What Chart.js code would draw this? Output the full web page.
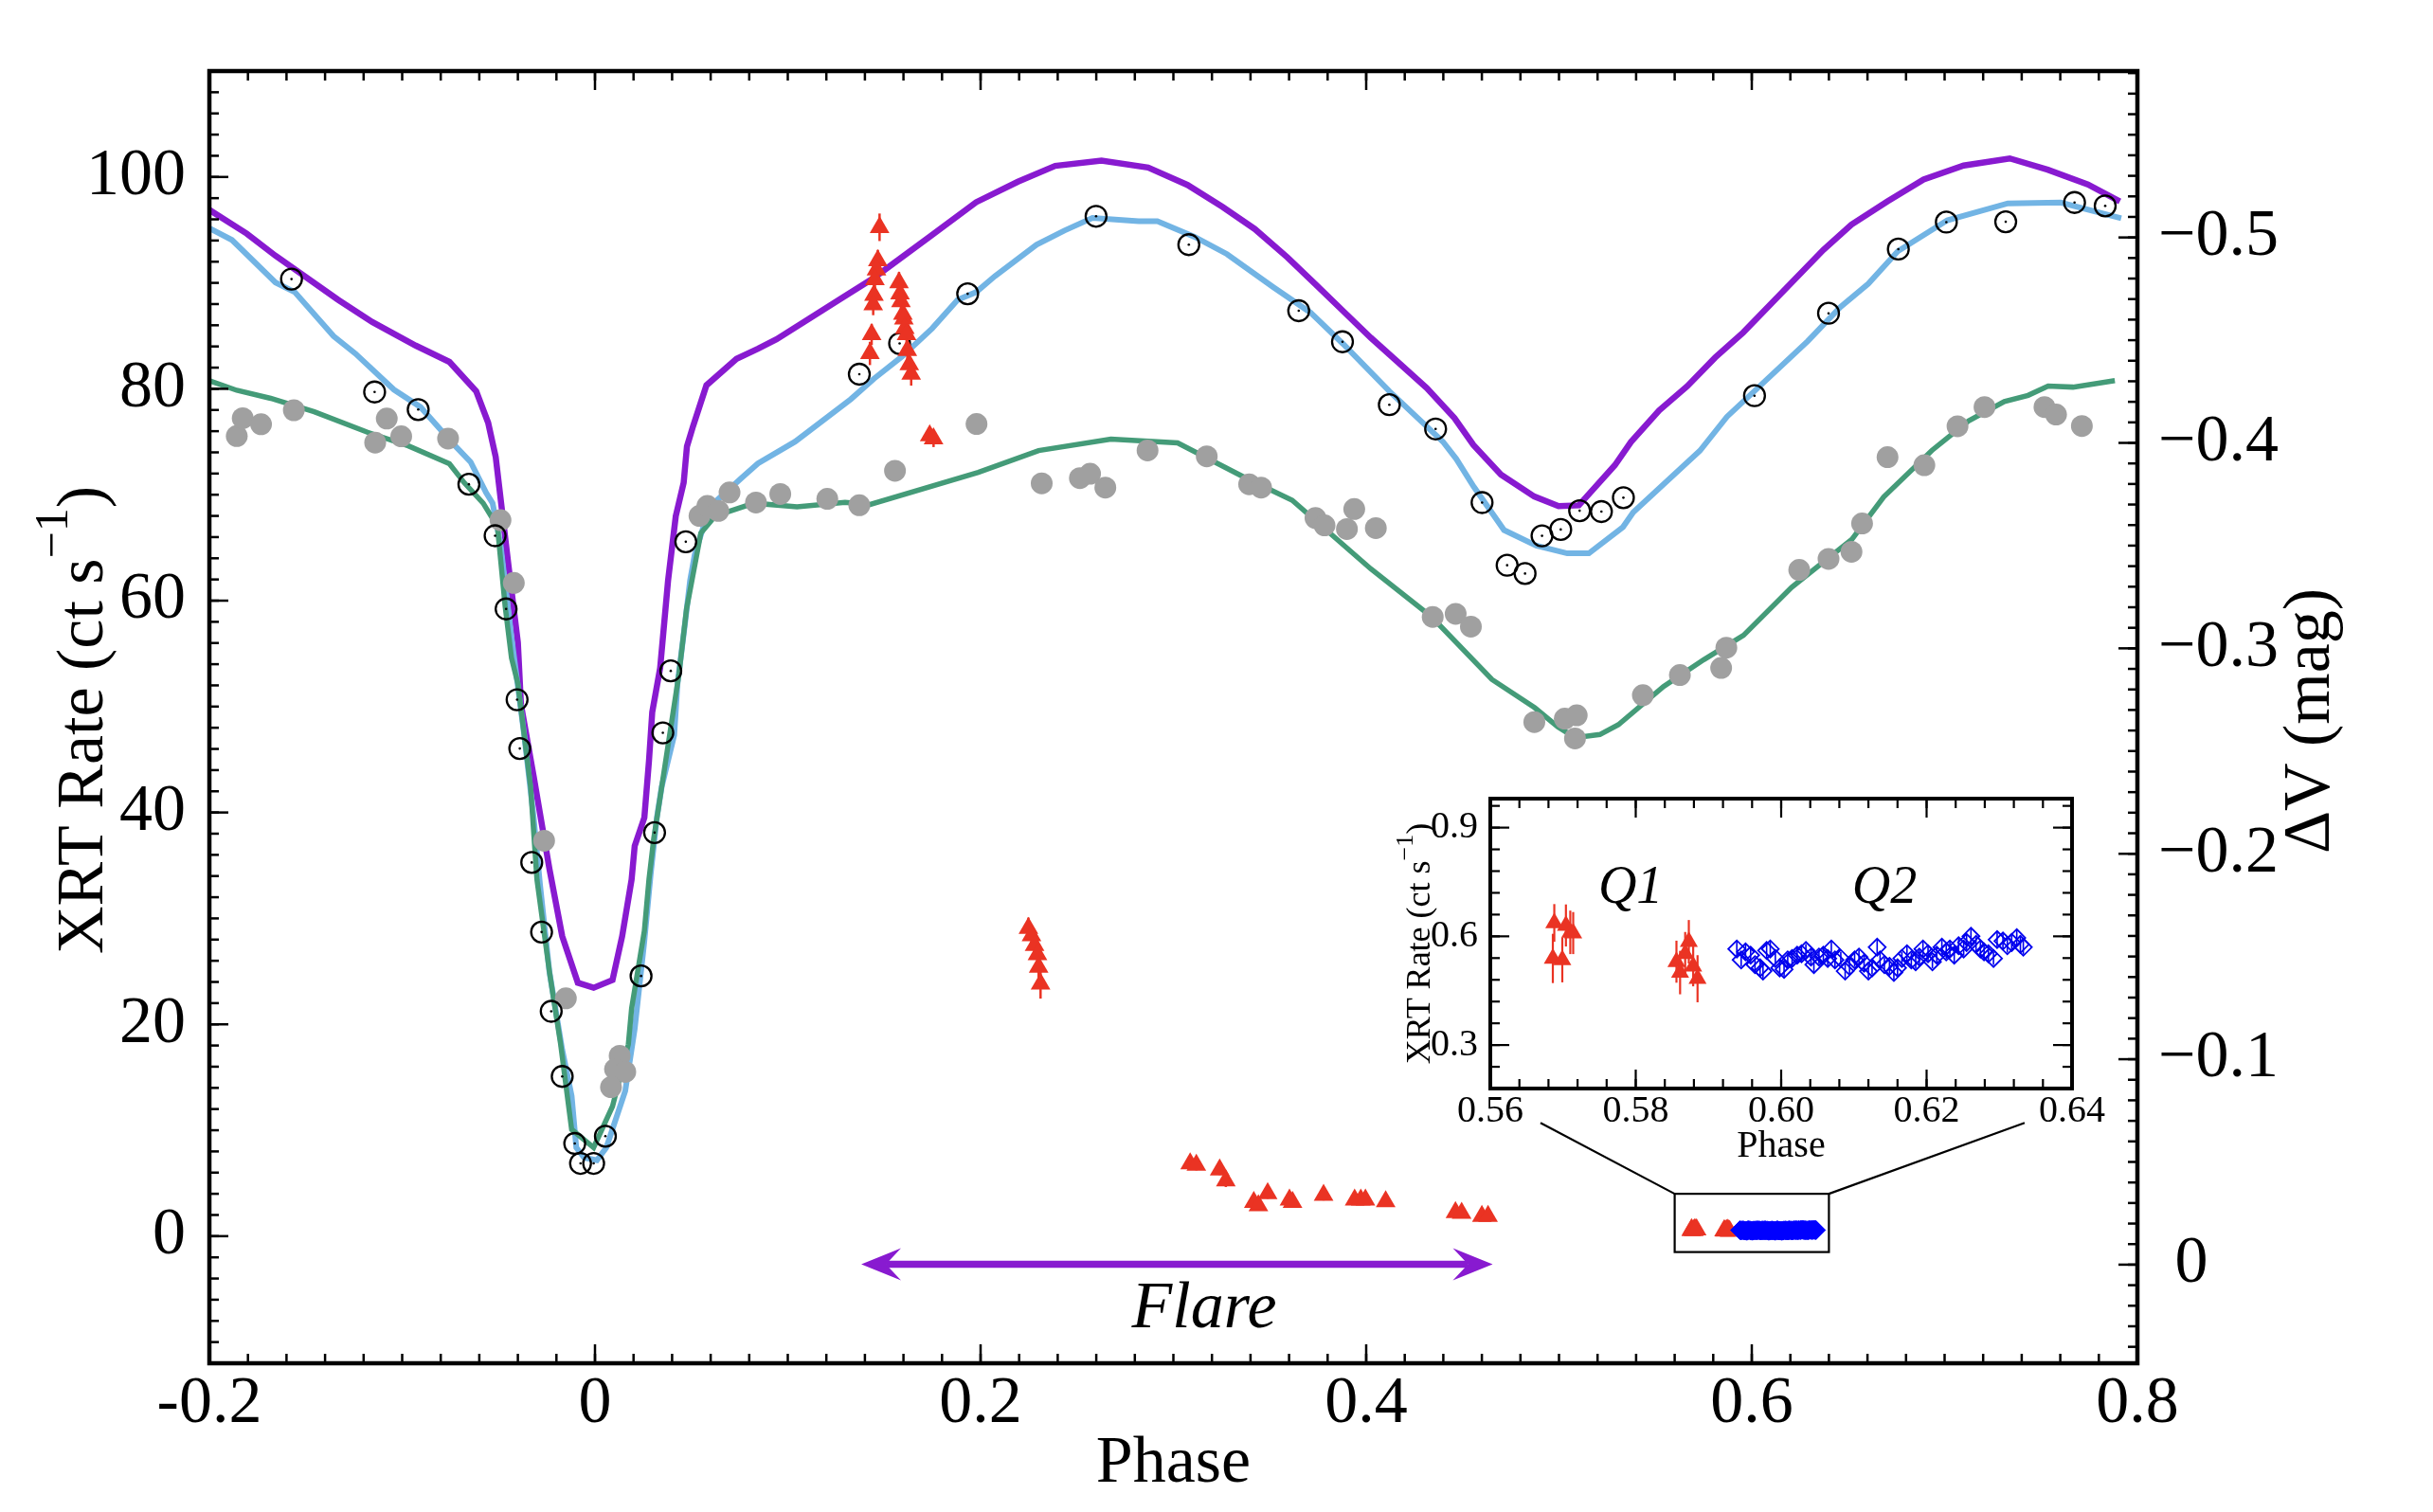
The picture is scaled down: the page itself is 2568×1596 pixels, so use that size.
<!DOCTYPE html>
<html><head><meta charset="utf-8">
<script src="https://cdn.jsdelivr.net/npm/chart.js@4.4.1/dist/chart.umd.min.js"></script>
<style>
html,body{margin:0;padding:0;background:#fff;overflow:hidden}
#wrap{position:relative;width:2568px;height:1596px;background:#fff}
#main{position:absolute;left:0;top:0}
#inset{position:absolute;left:1440px;top:825px}
</style></head><body>
<div id="wrap"><canvas id="main" width="2568" height="1596"></canvas><canvas id="inset" width="790" height="415"></canvas></div>
<script>
const FONT = "'Liberation Serif','Times New Roman',serif";
const C_PURPLE='#881ad0', C_BLUE='#72b4e4', C_GREEN='#449b78', C_GRAY='#a0a0a0', C_RED='#ea3323', C_QBLUE='#0000ee';

// ---- tick labels ----
const xTickValues=[-0.2,0,0.2,0.4,0.6,0.8];
const xTickLabels=['-0.2','0','0.2','0.4','0.6','0.8'];
const yTickValues=[0,20,40,60,80,100];
const yTickLabels=['0','20','40','60','80','100'];
const dvTickValues=[0,-0.1,-0.2,-0.3,-0.4,-0.5];
const dvTickLabels=[' 0','\u22120.1','\u22120.2','\u22120.3','\u22120.4','\u22120.5'];
const insetXTickValues=[0.56,0.58,0.60,0.62,0.64];
const insetXTickLabels=['0.56','0.58','0.60','0.62','0.64'];
const insetYTickValues=[0.3,0.6,0.9];
const insetYTickLabels=['0.3','0.6','0.9'];

// ---- model curves ----
const purplePhase=[-0.2000,-0.1806,-0.1657,-0.1332,-0.1155,-0.0930,-0.0755,-0.0616,-0.0554,-0.0515,-0.0449,-0.0400,-0.0384,-0.0318,-0.0236,-0.0170,-0.0089,-0.0007,0.0091,0.0141,0.0190,0.0206,0.0256,0.0280,0.0297,0.0338,0.0379,0.0419,0.0460,0.0477,0.0509,0.0578,0.0734,0.0845,0.0941,0.1110,0.1279,0.1447,0.1736,0.1977,0.2194,0.2387,0.2627,0.2869,0.3073,0.3254,0.3422,0.3591,0.3736,0.3880,0.4024,0.4169,0.4314,0.4458,0.4556,0.4699,0.4872,0.4998,0.5103,0.5290,0.5373,0.5519,0.5665,0.5810,0.5956,0.6122,0.6371,0.6517,0.6704,0.6891,0.7099,0.7338,0.7535,0.7743,0.7909];
const purpleRate=[96.89,94.65,92.56,88.40,86.31,84.08,82.54,79.76,76.79,73.58,63.37,56.04,50.21,43.41,34.64,28.32,23.93,23.45,24.19,28.32,33.67,36.84,39.52,44.87,49.48,53.64,61.89,67.98,71.13,74.56,76.49,80.33,82.83,83.78,84.67,86.60,88.55,90.48,94.36,97.62,99.56,101.05,101.55,100.89,99.25,97.18,95.09,92.41,89.88,87.35,84.82,82.45,80.07,77.23,74.70,71.89,69.83,68.93,69.00,72.79,74.98,77.96,80.24,82.95,85.33,88.45,93.11,95.51,97.70,99.77,101.08,101.75,100.69,99.30,97.70];

const bluePhase=[-0.2000,-0.1883,-0.1657,-0.1557,-0.1356,-0.1243,-0.1043,-0.0905,-0.0730,-0.0645,-0.0564,-0.0531,-0.0490,-0.0433,-0.0367,-0.0318,-0.0285,-0.0236,-0.0170,-0.0121,-0.0097,-0.0056,0.0010,0.0059,0.0157,0.0206,0.0256,0.0289,0.0321,0.0346,0.0411,0.0428,0.0468,0.0493,0.0517,0.0567,0.0616,0.0763,0.0845,0.1038,0.1327,0.1447,0.1592,0.1749,0.1881,0.1977,0.2074,0.2290,0.2435,0.2580,0.2820,0.2917,0.3109,0.3278,0.3519,0.3711,0.3880,0.4121,0.4242,0.4398,0.4467,0.4558,0.4715,0.4882,0.5043,0.5155,0.5332,0.5385,0.5731,0.5871,0.6016,0.6290,0.6459,0.6604,0.6757,0.7014,0.7328,0.7602,0.7916];
const blueRate=[95.17,94.05,90.04,89.13,84.97,83.33,79.92,78.28,74.70,73.09,70.17,69.20,65.30,56.54,47.30,39.52,33.19,24.92,17.61,13.23,8.37,7.41,7.16,8.37,13.72,19.57,27.83,34.17,39.52,42.43,47.30,52.15,58.00,61.89,64.32,67.24,69.20,71.63,72.95,75.01,79.02,80.96,83.04,85.71,88.39,89.13,90.63,93.61,94.94,96.14,95.83,95.83,94.36,92.72,89.59,87.20,84.24,79.76,77.68,75.01,73.39,70.75,66.66,65.20,64.47,64.47,66.95,68.34,74.15,77.36,79.82,84.50,87.72,89.91,92.98,95.91,97.51,97.59,96.11];

const greenPhase=[-0.2000,-0.1858,-0.1682,-0.1456,-0.1180,-0.0968,-0.0755,-0.0678,-0.0580,-0.0506,-0.0466,-0.0433,-0.0400,-0.0334,-0.0301,-0.0236,-0.0178,-0.0121,-0.0007,0.0091,0.0173,0.0190,0.0256,0.0280,0.0305,0.0338,0.0436,0.0475,0.0549,0.0624,0.0825,0.1048,0.1297,0.1424,0.1988,0.2301,0.2676,0.3022,0.3365,0.3616,0.4024,0.4339,0.4652,0.4874,0.4994,0.5083,0.5212,0.5308,0.5542,0.5751,0.5957,0.6206,0.6520,0.6684,0.6934,0.7124,0.7310,0.7433,0.7537,0.7666,0.7883];
const greenRate=[80.76,79.86,79.10,77.83,75.90,74.61,72.92,71.13,69.20,67.00,59.46,54.59,52.17,42.43,33.67,24.92,18.11,10.07,8.37,12.26,18.11,21.52,28.81,33.67,37.56,41.45,53.13,59.23,66.38,68.00,69.20,68.85,69.29,69.07,72.11,74.17,75.24,74.89,71.67,69.48,63.00,58.47,52.56,49.89,48.09,47.06,47.36,48.28,51.89,54.43,56.72,61.25,65.81,69.79,74.18,76.97,78.80,79.38,80.26,80.16,80.77];

// ---- observed points ----
const grayPhase=[-0.1858,-0.1827,-0.1732,-0.1562,-0.1140,-0.1080,-0.1005,-0.0762,-0.0490,-0.0421,-0.0264,-0.0151,0.0128,0.0104,0.0157,0.0083,0.0542,0.0583,0.0640,0.0698,0.0835,0.0961,0.1205,0.1371,0.1556,0.1979,0.2317,0.2515,0.2568,0.2647,0.2866,0.3173,0.3393,0.3455,0.3737,0.3784,0.3900,0.3938,0.4050,0.4345,0.4464,0.4543,0.4872,0.5030,0.5092,0.5083,0.5435,0.5627,0.5841,0.5868,0.6246,0.6398,0.6517,0.6572,0.6704,0.6895,0.7067,0.7207,0.7518,0.7578,0.7712];
const grayRate=[75.54,77.23,76.65,77.98,74.92,77.19,75.51,75.30,67.60,61.67,37.33,22.45,17.03,15.77,15.51,14.07,68.00,68.94,68.47,70.21,69.26,70.07,69.61,69.01,72.26,76.68,71.08,71.57,71.98,70.67,74.18,73.63,70.99,70.67,67.80,67.11,66.76,68.65,66.85,58.46,58.76,57.55,48.54,48.86,49.17,46.99,51.07,52.97,53.64,55.56,62.90,63.94,64.61,67.29,73.55,72.79,76.46,78.28,78.28,77.57,76.49];

const circPhase=[-0.1574,-0.1143,-0.0917,-0.0654,-0.0518,-0.0461,-0.0404,-0.0390,-0.0328,-0.0277,-0.0227,-0.0170,-0.0105,-0.0075,-0.0007,0.0054,0.0239,0.0309,0.0352,0.0393,0.0471,0.1371,0.1580,0.1933,0.2599,0.3080,0.3650,0.3877,0.4120,0.4360,0.4601,0.4731,0.4824,0.4912,0.5009,0.5107,0.5220,0.5334,0.6014,0.6398,0.6760,0.7009,0.7317,0.7674,0.7833];
const circRate=[90.36,79.70,78.04,70.99,66.13,59.22,50.65,46.04,35.28,28.71,21.23,15.08,8.75,6.87,6.87,9.44,24.57,38.10,47.52,53.37,65.56,81.38,84.28,88.97,96.29,93.61,87.37,84.44,78.50,76.21,69.26,63.34,62.56,66.12,66.72,68.49,68.41,69.72,79.35,87.13,93.19,95.74,95.77,97.59,97.27];

const flarePhase=[0.1476,0.1467,0.1460,0.1452,0.1447,0.1443,0.1435,0.1426,0.1577,0.1582,0.1587,0.1597,0.1602,0.1607,0.1616,0.1620,0.1630,0.1640,0.1736,0.1756,0.2248,0.2264,0.2280,0.2295,0.2301,0.2311,0.3087,0.3119,0.3240,0.3272,0.3417,0.3441,0.3489,0.3602,0.3618,0.3779,0.3940,0.3972,0.3996,0.4101,0.4463,0.4495,0.4600,0.4632];
const flareRate=[95.25,92.12,91.23,90.33,88.84,87.95,85.13,83.34,90.03,88.99,88.24,87.06,86.60,85.71,85.13,83.64,82.29,81.40,75.59,75.30,29.08,28.39,27.47,26.59,25.42,23.83,6.85,6.71,6.27,5.24,3.20,2.90,4.03,3.43,3.20,3.87,3.43,3.43,3.43,3.28,2.24,2.17,1.88,1.88];
const flareErr=[1.3,1.0,1.0,1.0,1.0,1.0,1.0,1.1,1.0,1.0,1.0,1.0,1.0,1.0,1.0,1.0,1.0,1.1,0.8,0.8,1.0,1.0,1.0,1.0,1.1,1.4,0.5,0.5,0.5,0.6,0.5,0.5,0.5,0.5,0.5,0.5,0.5,0.5,0.5,0.5,0.4,0.4,0.4,0.4];

const q1Phase=[0.5686,0.5688,0.5699,0.5704,0.5710,0.5714,0.5856,0.5861,0.5868,0.5873,0.5879,0.5885];
const q1Rate=[0.539,0.637,0.535,0.630,0.611,0.609,0.530,0.500,0.552,0.585,0.517,0.483];
const q1Err=[0.068,0.052,0.062,0.058,0.060,0.058,0.058,0.060,0.060,0.060,0.055,0.065];

const q2Phase=[0.5939,0.5945,0.5951,0.5958,0.5964,0.5971,0.5975,0.5980,0.5985,0.5992,0.5998,0.6004,0.6009,0.6015,0.6022,0.6028,0.6034,0.6041,0.6045,0.6052,0.6058,0.6064,0.6069,0.6074,0.6082,0.6088,0.6094,0.6101,0.6107,0.6114,0.6120,0.6125,0.6132,0.6136,0.6142,0.6149,0.6155,0.6160,0.6166,0.6173,0.6179,0.6185,0.6190,0.6195,0.6202,0.6208,0.6214,0.6221,0.6227,0.6232,0.6238,0.6244,0.6251,0.6255,0.6261,0.6268,0.6274,0.6279,0.6285,0.6292,0.6297,0.6305,0.6311,0.6317,0.6324,0.6329,0.6333];
const q2Rate=[0.565,0.535,0.557,0.548,0.522,0.513,0.504,0.561,0.565,0.539,0.513,0.509,0.535,0.539,0.548,0.552,0.561,0.543,0.522,0.543,0.548,0.539,0.565,0.535,0.539,0.504,0.517,0.535,0.543,0.526,0.504,0.513,0.570,0.535,0.522,0.517,0.500,0.513,0.539,0.552,0.535,0.530,0.543,0.565,0.552,0.530,0.548,0.570,0.557,0.565,0.548,0.574,0.565,0.583,0.600,0.578,0.565,0.557,0.552,0.539,0.591,0.587,0.574,0.583,0.596,0.578,0.570];
const q2Err=[0.020,0.018,0.022,0.020,0.019,0.021,0.020,0.022,0.020,0.018,0.021,0.020,0.019,0.020,0.022,0.020,0.018,0.021,0.020,0.019,0.020,0.022,0.021,0.020,0.018,0.020,0.021,0.019,0.020,0.022,0.020,0.018,0.021,0.020,0.019,0.020,0.022,0.020,0.018,0.021,0.020,0.019,0.020,0.022,0.020,0.018,0.021,0.020,0.019,0.020,0.022,0.020,0.018,0.021,0.020,0.019,0.020,0.022,0.020,0.018,0.021,0.020,0.019,0.020,0.022,0.025,0.020];

// ---- annotations (data units) ----
const flareArrowPhase=[0.1381,0.4656];
const flareArrowRate=-2.65;
const flareLabelPos=[0.316,-8.6];
const zoomBoxPhase=[0.56,0.64];
const zoomBoxRate=[-1.5,4.0];
const connectorEnds=[[0.4904,10.7],[0.7415,10.7]];
const q1LabelPos=[0.5793,0.692];
const q2LabelPos=[0.6142,0.692];

const pts=(xs,ys)=>xs.map((x,i)=>({x:x,y:ys[i]}));
function range(a,b,step){const out=[];const n=Math.round((b-a)/step);for(let i=0;i<=n;i++)out.push(+(a+i*step).toFixed(6));return out;}

function drawErr(chart,meta,ds){
  if(!ds.errorBars) return;
  const ctx=chart.ctx, xs=meta.xScale, ys=meta.yScale;
  ctx.save(); ctx.strokeStyle=ds.errorColor; ctx.lineWidth=ds.errorWidth||2.5;
  ds.data.forEach((p,i)=>{const e=ds.errorBars[i];const x=xs.getPixelForValue(p.x);
    ctx.beginPath();ctx.moveTo(x,ys.getPixelForValue(p.y-e));ctx.lineTo(x,ys.getPixelForValue(p.y+e));ctx.stroke();});
  ctx.restore();
}
function inwardTicks(ctx,area,scale,side,values,len){
  const lo=Math.min(scale.min,scale.max), hi=Math.max(scale.min,scale.max);
  values.forEach(v=>{
    if(v<lo-1e-9||v>hi+1e-9) return;
    const p=scale.getPixelForValue(v);
    ctx.beginPath();
    if(side==='bottom'){ctx.moveTo(p,area.bottom);ctx.lineTo(p,area.bottom-len);}
    else if(side==='top'){ctx.moveTo(p,area.top);ctx.lineTo(p,area.top+len);}
    else if(side==='left'){ctx.moveTo(area.left,p);ctx.lineTo(area.left+len,p);}
    else {ctx.moveTo(area.right,p);ctx.lineTo(area.right-len,p);}
    ctx.stroke();
  });
}
function rotTitle(ctx,parts,baseX,cy){
  ctx.save();
  let total=0;
  parts.forEach(p=>{ctx.font=(p.style||'')+' '+p.size+'px '+FONT;p.w=ctx.measureText(p.text).width;total+=p.w;});
  ctx.translate(baseX,cy);ctx.rotate(-Math.PI/2);
  ctx.fillStyle='#000';ctx.textBaseline='alphabetic';ctx.textAlign='left';
  let x=-total/2;
  parts.forEach(p=>{ctx.font=(p.style||'')+' '+p.size+'px '+FONT;ctx.fillText(p.text,x,-(p.rise||0));x+=p.w;});
  ctx.restore();
}
function arrowHead(ctx,tipX,y,dir,L,W){
  ctx.beginPath();ctx.moveTo(tipX,y);ctx.lineTo(tipX-dir*L,y-W);ctx.lineTo(tipX-dir*L*0.62,y);ctx.lineTo(tipX-dir*L,y+W);ctx.closePath();ctx.fill();
}

const mainDeco={
  id:'mainDeco',
  beforeDatasetDraw(chart,args){drawErr(chart,args.meta,chart.data.datasets[args.index]);},
  afterDraw(chart){
    const ctx=chart.ctx, a=chart.chartArea, sx=chart.scales.x, sy=chart.scales.y, sdv=chart.scales.dv;
    ctx.save();
    ctx.strokeStyle='#000';ctx.lineWidth=2.5;ctx.lineCap='butt';
    const xMinor=range(-0.2,0.8,0.02), yMinor=range(-12,110,2), dvMinor=range(-0.58,0.04,0.01);
    inwardTicks(ctx,a,sx,'bottom',xMinor,10);inwardTicks(ctx,a,sx,'top',xMinor,10);
    inwardTicks(ctx,a,sx,'bottom',xTickValues,20);inwardTicks(ctx,a,sx,'top',xTickValues,20);
    inwardTicks(ctx,a,sy,'left',yMinor,10);inwardTicks(ctx,a,sy,'left',yTickValues,20);
    inwardTicks(ctx,a,sdv,'right',dvMinor,10);inwardTicks(ctx,a,sdv,'right',dvTickValues,20);
    ctx.lineWidth=4.5;ctx.strokeRect(a.left,a.top,a.right-a.left,a.bottom-a.top);
    // zoom box and connectors
    ctx.lineWidth=2.2;
    const bx0=sx.getPixelForValue(zoomBoxPhase[0]), bx1=sx.getPixelForValue(zoomBoxPhase[1]);
    const by0=sy.getPixelForValue(zoomBoxRate[1]), by1=sy.getPixelForValue(zoomBoxRate[0]);
    ctx.strokeRect(bx0,by0,bx1-bx0,by1-by0);
    ctx.beginPath();ctx.moveTo(bx0,by0);ctx.lineTo(sx.getPixelForValue(connectorEnds[0][0]),sy.getPixelForValue(connectorEnds[0][1]));
    ctx.moveTo(bx1,by0);ctx.lineTo(sx.getPixelForValue(connectorEnds[1][0]),sy.getPixelForValue(connectorEnds[1][1]));ctx.stroke();
    // flare arrow
    const ax0=sx.getPixelForValue(flareArrowPhase[0]), ax1=sx.getPixelForValue(flareArrowPhase[1]), ay=sy.getPixelForValue(flareArrowRate);
    ctx.strokeStyle=C_PURPLE;ctx.fillStyle=C_PURPLE;ctx.lineWidth=7.5;
    ctx.beginPath();ctx.moveTo(ax0+26,ay);ctx.lineTo(ax1-26,ay);ctx.stroke();
    arrowHead(ctx,ax0,ay,-1,42,17);arrowHead(ctx,ax1,ay,1,42,17);
    // flare label
    ctx.fillStyle='#000';ctx.font='italic 70px '+FONT;ctx.textAlign='center';ctx.textBaseline='alphabetic';
    ctx.fillText('Flare',sx.getPixelForValue(flareLabelPos[0]),sy.getPixelForValue(flareLabelPos[1]));
    ctx.restore();
    rotTitle(ctx,[{text:'XRT Rate (ct s',size:70},{text:'\u22121',size:50,rise:37},{text:')',size:70}],108,(a.top+a.bottom)/2+3);
    rotTitle(ctx,[{text:'\u0394V (mag)',size:70},],2458,(a.top+a.bottom)/2+4);
  }
};

const fixedPad=s=>{s.paddingTop=0;s.paddingBottom=0;s.paddingLeft=0;s.paddingRight=0;};

new Chart(document.getElementById('main'),{
  type:'scatter',
  data:{datasets:[
    {label:'model 1',data:pts(purplePhase,purpleRate),showLine:true,borderColor:C_PURPLE,borderWidth:6.5,pointRadius:0,tension:0,fill:false,order:12},
    {label:'model 2',data:pts(bluePhase,blueRate),showLine:true,borderColor:C_BLUE,borderWidth:6,pointRadius:0,tension:0,fill:false,order:11},
    {label:'model 3',data:pts(greenPhase,greenRate),showLine:true,borderColor:C_GREEN,borderWidth:5.5,pointRadius:0,tension:0,fill:false,order:10},
    {label:'optical',data:pts(grayPhase,grayRate),pointStyle:'circle',pointRadius:11.5,backgroundColor:C_GRAY,borderWidth:0,order:6},
    {label:'optical 2',data:pts(circPhase,circRate),pointStyle:'circle',pointRadius:11,backgroundColor:'rgba(0,0,0,0)',borderColor:'#000',borderWidth:2.3,order:5},
    {label:'optical 2 centre',data:pts(circPhase,circRate),pointStyle:'circle',pointRadius:1.3,backgroundColor:'#000',borderWidth:0,order:4},
    {label:'XRT flare',data:pts(flarePhase,flareRate),errorBars:flareErr,errorColor:C_RED,errorWidth:2.5,pointStyle:'triangle',pointRadius:12,backgroundColor:C_RED,borderWidth:0,order:3},
    {label:'Q1',data:pts(q1Phase,q1Rate),pointStyle:'triangle',pointRadius:12,backgroundColor:C_RED,borderWidth:0,order:3},
    {label:'Q2',data:pts(q2Phase,q2Rate),pointStyle:'rectRot',pointRadius:10,backgroundColor:'#0000ff',borderColor:'#0000ff',borderWidth:1,order:2}
  ]},
  options:{
    responsive:false,animation:false,devicePixelRatio:1,
    layout:{padding:{top:75,left:0,right:0,bottom:0}},
    plugins:{legend:{display:false},tooltip:{enabled:false}},
    scales:{
      x:{type:'linear',position:'bottom',min:-0.2,max:0.8,
        afterBuildTicks:s=>{s.ticks=xTickValues.map(v=>({value:v}));},
        afterFit:s=>{s.height=157;fixedPad(s);},
        ticks:{callback:(v,i)=>xTickLabels[i],font:{family:FONT,size:70},color:'#000',padding:2,autoSkip:false,maxRotation:0},
        grid:{display:false,drawTicks:false},border:{display:false},
        title:{display:true,text:'Phase',font:{family:FONT,size:70},color:'#000',padding:{top:0,bottom:8}}},
      y:{type:'linear',position:'left',min:-12,max:110,
        afterBuildTicks:s=>{s.ticks=yTickValues.map(v=>({value:v}));},
        afterFit:s=>{s.width=221;fixedPad(s);},
        ticks:{callback:(v,i)=>yTickLabels[i],font:{family:FONT,size:70},color:'#000',padding:25,autoSkip:false},
        grid:{display:false,drawTicks:false},border:{display:false}},
      dv:{type:'linear',position:'right',reverse:true,min:-0.581,max:0.048,
        afterBuildTicks:s=>{s.ticks=dvTickValues.map(v=>({value:v}));},
        afterFit:s=>{s.width=312;fixedPad(s);},
        ticks:{callback:(v,i)=>dvTickLabels[i],font:{family:FONT,size:70},color:'#000',padding:22,autoSkip:false},
        grid:{display:false,drawTicks:false},border:{display:false}}
    }
  },
  plugins:[mainDeco]
});

const insetDeco={
  id:'insetDeco',
  beforeDatasetDraw(chart,args){drawErr(chart,args.meta,chart.data.datasets[args.index]);},
  afterDraw(chart){
    const ctx=chart.ctx,a=chart.chartArea,sx=chart.scales.x,sy=chart.scales.y;
    ctx.save();ctx.strokeStyle='#000';ctx.lineWidth=2.2;
    const xm=range(0.56,0.64,0.004), ym=range(0.18,0.96,0.06);
    ['bottom','top'].forEach(sd=>{inwardTicks(ctx,a,sx,sd,xm,10);inwardTicks(ctx,a,sx,sd,insetXTickValues,20);});
    ['left','right'].forEach(sd=>{inwardTicks(ctx,a,sy,sd,ym,10);inwardTicks(ctx,a,sy,sd,insetYTickValues,20);});
    ctx.lineWidth=4;ctx.strokeRect(a.left,a.top,a.right-a.left,a.bottom-a.top);
    ctx.fillStyle='#000';ctx.font='italic 56px '+FONT;ctx.textAlign='center';ctx.textBaseline='alphabetic';
    ctx.fillText('Q1',sx.getPixelForValue(q1LabelPos[0]),sy.getPixelForValue(q1LabelPos[1]));
    ctx.fillText('Q2',sx.getPixelForValue(q2LabelPos[0]),sy.getPixelForValue(q2LabelPos[1]));
    ctx.restore();
    rotTitle(ctx,[{text:'XRT Rate (ct s',size:36},{text:'\u22121',size:26,rise:18},{text:')',size:36}],69,(a.top+a.bottom)/2);
  }
};

new Chart(document.getElementById('inset'),{
  type:'scatter',
  data:{datasets:[
    {label:'Q1',data:pts(q1Phase,q1Rate),errorBars:q1Err,errorColor:C_RED,errorWidth:2.2,pointStyle:'triangle',pointRadius:11,backgroundColor:C_RED,borderWidth:0,order:2},
    {label:'Q2',data:pts(q2Phase,q2Rate),errorBars:q2Err,errorColor:C_QBLUE,errorWidth:1.6,pointStyle:'rectRot',pointRadius:9,backgroundColor:'rgba(0,0,0,0)',borderColor:C_QBLUE,borderWidth:1.8,order:1}
  ]},
  options:{
    responsive:false,animation:false,devicePixelRatio:1,
    layout:{padding:{top:18,right:43,left:0,bottom:0}},
    plugins:{legend:{display:false},tooltip:{enabled:false}},
    scales:{
      x:{type:'linear',min:0.56,max:0.64,
        afterBuildTicks:s=>{s.ticks=insetXTickValues.map(v=>({value:v}));},
        afterFit:s=>{s.height=91;fixedPad(s);},
        ticks:{callback:(v,i)=>insetXTickLabels[i],font:{family:FONT,size:40},color:'#000',padding:0,autoSkip:false,maxRotation:0},
        grid:{display:false,drawTicks:false},border:{display:false},
        title:{display:true,text:'Phase',font:{family:FONT,size:40},color:'#000',padding:{top:0,bottom:6}}},
      y:{type:'linear',min:0.18,max:0.98,
        afterBuildTicks:s=>{s.ticks=insetYTickValues.map(v=>({value:v}));},
        afterFit:s=>{s.width=133;fixedPad(s);},
        ticks:{callback:(v,i)=>insetYTickLabels[i],font:{family:FONT,size:40},color:'#000',padding:13,autoSkip:false},
        grid:{display:false,drawTicks:false},border:{display:false}}
    }
  },
  plugins:[insetDeco]
});
</script></body></html>
